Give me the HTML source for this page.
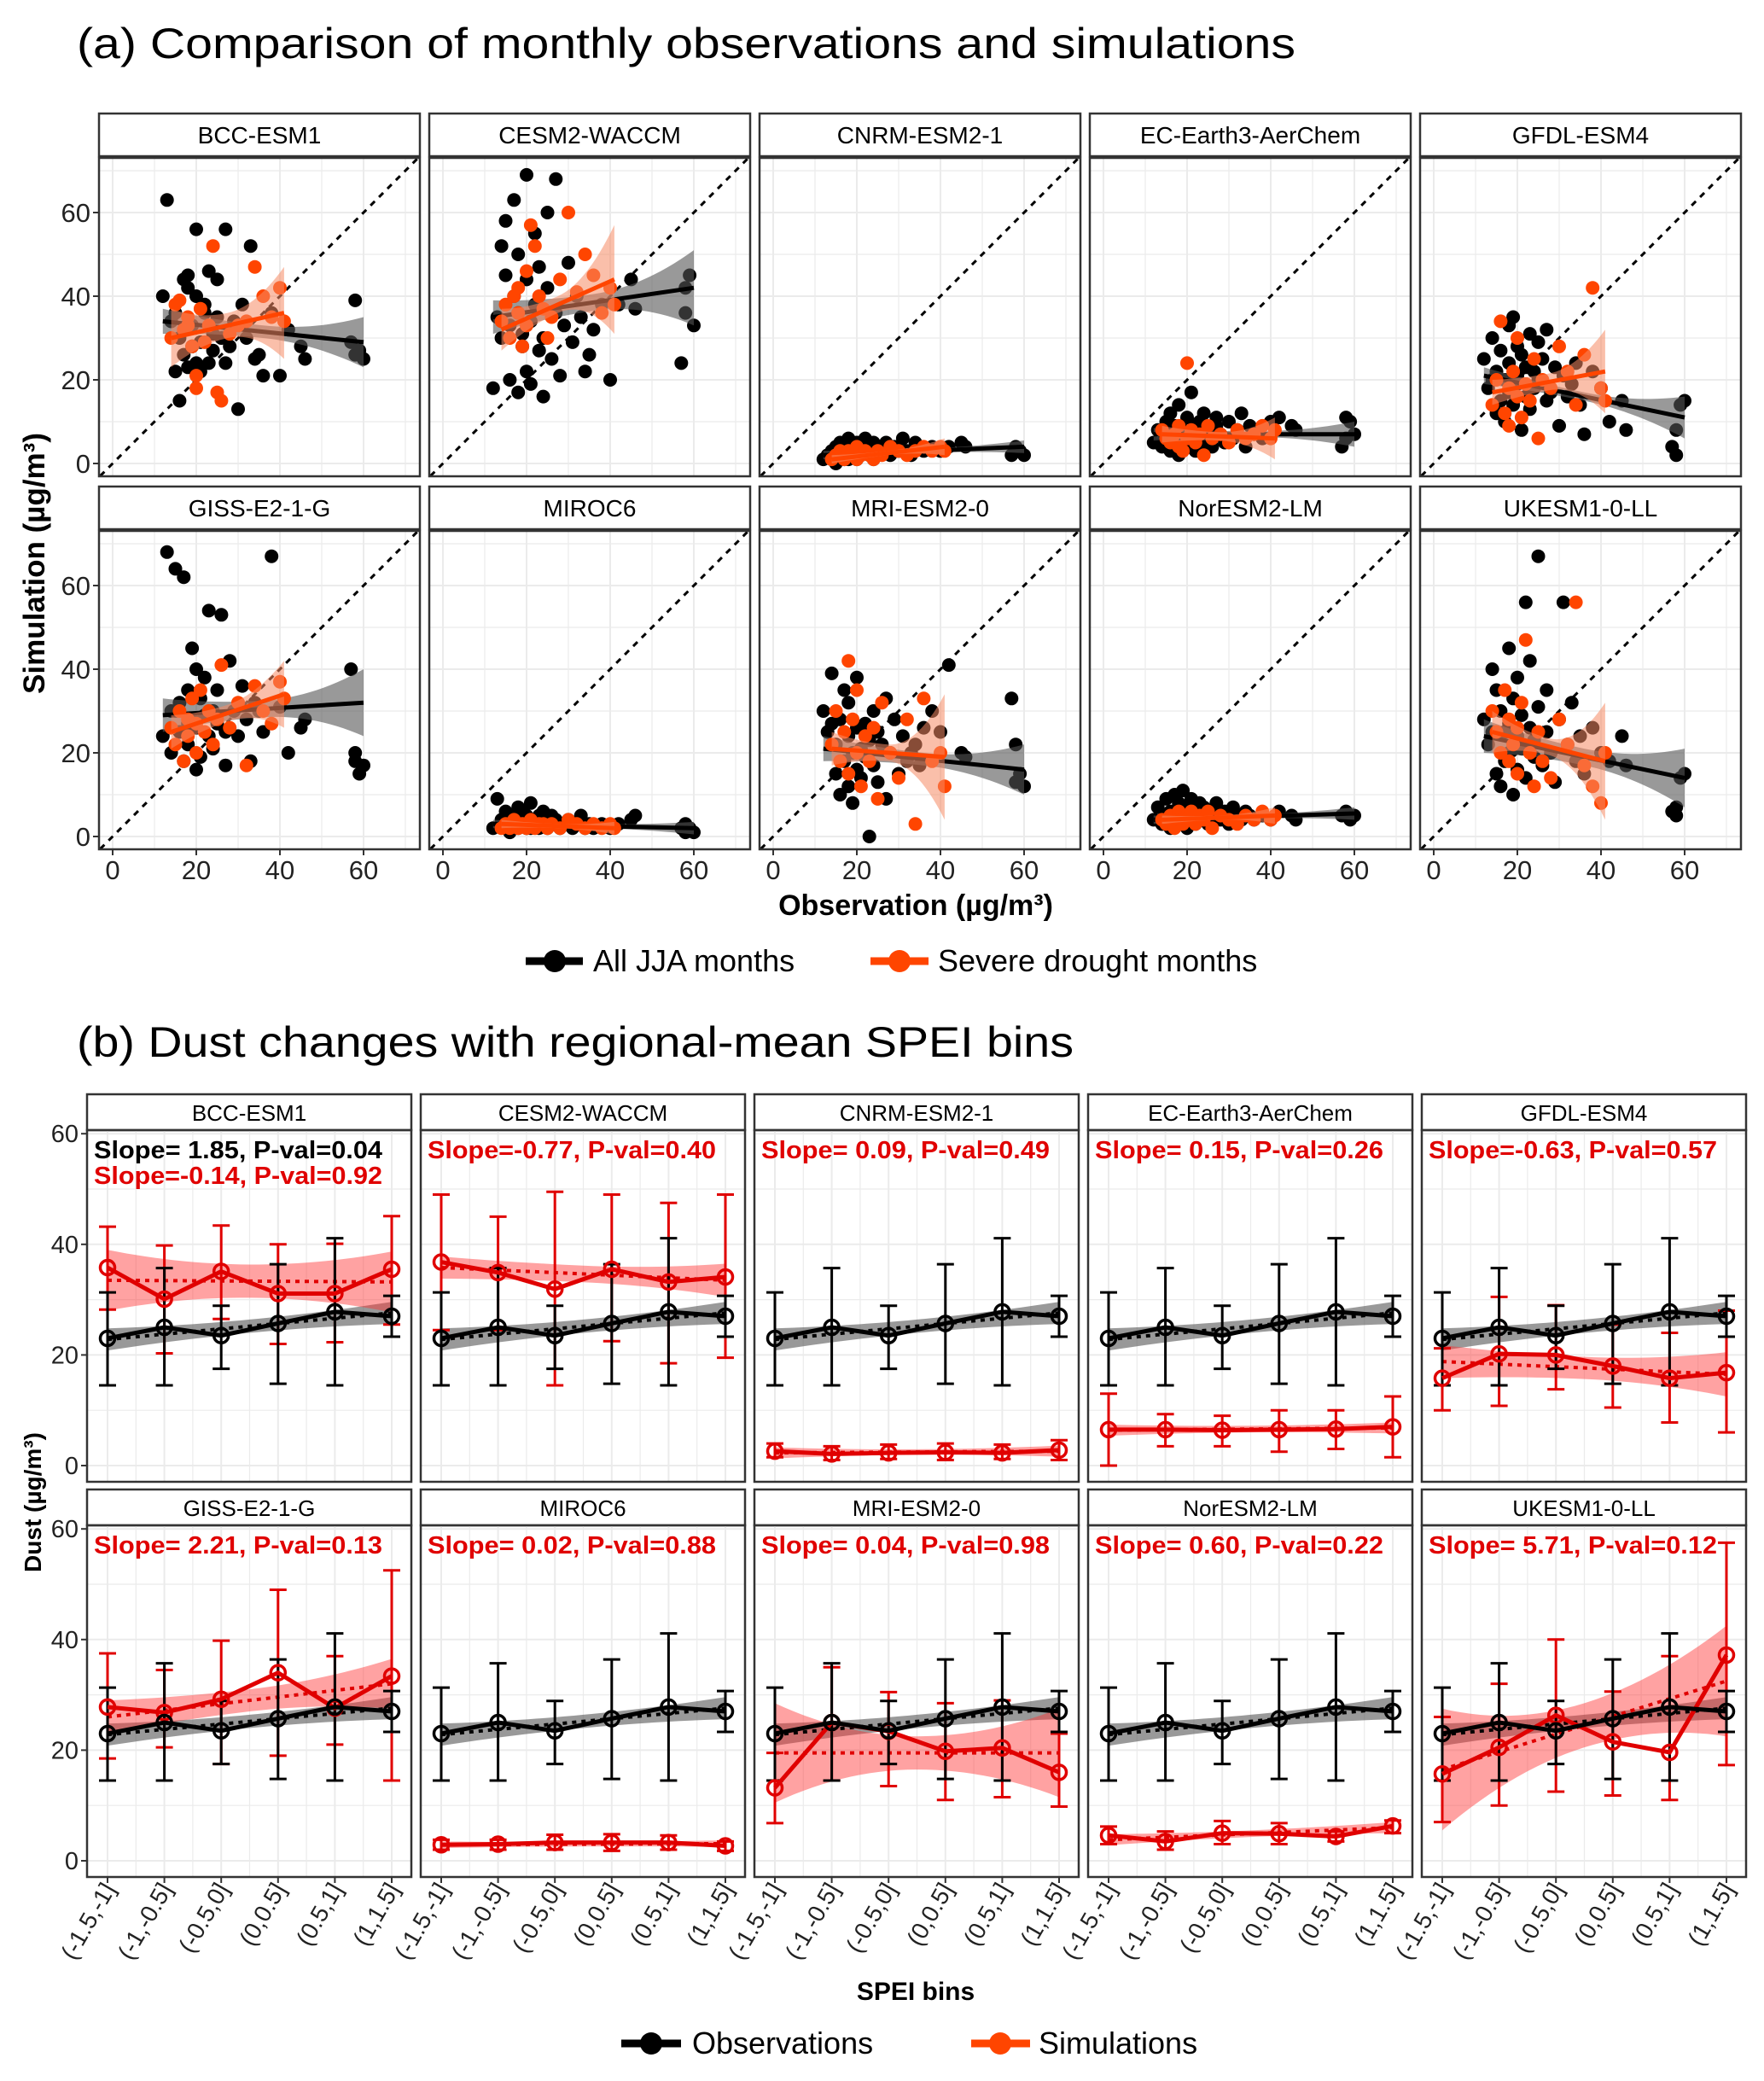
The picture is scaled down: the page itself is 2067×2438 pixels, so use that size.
<!DOCTYPE html>
<html><head><meta charset="utf-8">
<style>
html,body{margin:0;padding:0;background:#fff;}
svg{display:block;font-family:"Liberation Sans",Arial,sans-serif;}
</style></head>
<body>
<svg id="fig" width="2067" height="2438" viewBox="0 0 2067 2438" xmlns="http://www.w3.org/2000/svg">
<rect x="0" y="0" width="2067" height="2438" fill="#fff"/>
<text x="90" y="68" font-size="50" textLength="1428" lengthAdjust="spacingAndGlyphs">(a) Comparison of monthly observations and simulations</text>
<text x="90" y="1238" font-size="50" textLength="1168" lengthAdjust="spacingAndGlyphs">(b) Dust changes with regional-mean SPEI bins</text>
<text transform="translate(52,660) rotate(-90)" text-anchor="middle" font-size="35" font-weight="bold">Simulation (µg/m³)</text>
<text x="1073" y="1072" text-anchor="middle" font-size="34" font-weight="bold">Observation (µg/m³)</text>
<text transform="translate(48,1760) rotate(-90)" text-anchor="middle" font-size="28" font-weight="bold">Dust (µg/m³)</text>
<text x="1073" y="2343" text-anchor="middle" font-size="30" font-weight="bold">SPEI bins</text>
<g id="gA"></g>
<g id="gB"></g>
<g>
  <line x1="616" y1="1126" x2="683" y2="1126" stroke="#000" stroke-width="9"/>
  <circle cx="650" cy="1126" r="13" fill="#000"/>
  <text x="695" y="1138" font-size="36">All JJA months</text>
  <line x1="1020" y1="1126" x2="1088" y2="1126" stroke="#ff4500" stroke-width="9"/>
  <circle cx="1054" cy="1126" r="13" fill="#ff4500"/>
  <text x="1099" y="1138" font-size="36">Severe drought months</text>
</g>
<g>
  <line x1="728" y1="2394" x2="798" y2="2394" stroke="#000" stroke-width="9"/>
  <circle cx="763" cy="2394" r="13" fill="#000"/>
  <text x="811" y="2406" font-size="36">Observations</text>
  <line x1="1138" y1="2394" x2="1207" y2="2394" stroke="#ff4500" stroke-width="9"/>
  <circle cx="1172" cy="2394" r="13" fill="#ff4500"/>
  <text x="1217" y="2406" font-size="36">Simulations</text>
</g>
</svg>
<script>
const NS="http://www.w3.org/2000/svg";
const models=["BCC-ESM1","CESM2-WACCM","CNRM-ESM2-1","EC-Earth3-AerChem","GFDL-ESM4","GISS-E2-1-G","MIROC6","MRI-ESM2-0","NorESM2-LM","UKESM1-0-LL"];
// ---- Panel (a) data ----
const obsAll=[12,13,14,15,15,16,16,17,17,18,18,18,19,19,20,20,20,21,21,22,22,23,23,24,24,25,25,26,27,27,28,29,30,31,32,33,34,35,36,38,40,42,45,46,57,58,58,59,60,14];
const simBCC=[40,63,34,22,36,15,30,44,26,23,45,42,33,28,24,56,40,29,22,38,36,46,24,27,31,35,44,30,24,56,28,34,13,38,30,52,25,26,21,36,21,32,28,25,29,26,39,27,25,34];
const simCESM=[18,35,30,45,58,20,33,40,63,17,36,50,28,31,44,22,69,34,19,55,38,27,47,16,30,42,60,25,36,68,21,33,48,29,40,35,22,26,32,38,20,38,44,37,24,36,42,45,33,52];
const simCNRM=[1,2,3,0,4,2,5,1,3,2,6,1,3,4,2,1,5,3,2,4,6,2,3,1,5,3,2,4,3,5,2,4,3,6,3,2,5,4,3,4,3,4,5,4,2,3,4,3,2,1];
const simEC=[5,8,4,10,6,3,12,7,9,2,6,14,5,8,11,7,4,17,6,9,3,10,7,5,12,8,6,4,9,11,7,5,10,6,8,12,4,9,7,6,10,11,9,8,4,6,11,10,7,5];
const simGFDL=[25,18,30,12,22,15,27,20,10,33,24,17,35,14,21,28,19,8,26,16,23,31,13,22,18,29,20,25,15,32,17,23,9,21,16,19,24,14,7,22,18,10,15,8,4,8,2,14,15,20];
const simGISS=[24,68,20,30,64,25,32,18,62,27,35,22,45,28,16,40,26,33,19,38,29,54,24,30,21,35,27,53,25,17,42,30,24,36,28,18,32,30,25,67,31,20,26,28,40,20,18,15,17,30];
const simMIROC=[2,9,3,6,2,4,1,5,3,7,2,4,3,6,2,5,3,8,2,4,3,5,2,6,3,4,2,5,3,4,2,3,4,2,3,5,2,3,2,3,2,3,4,5,2,1,3,2,1,4];
const simMRI=[30,25,39,15,22,10,28,18,35,12,24,32,20,8,26,16,38,21,14,27,19,0,23,30,17,25,13,22,33,9,20,28,15,24,18,20,22,17,26,30,25,41,20,19,33,22,13,15,12,27];
const simNor=[4,7,3,9,5,2,6,10,4,8,3,5,11,6,2,7,4,9,5,3,6,8,4,7,5,3,6,4,8,5,4,6,3,7,5,4,6,5,4,5,4,6,5,4,5,6,5,4,5,3];
const simUK=[28,22,40,15,35,12,30,25,18,45,20,27,10,33,24,38,16,29,21,56,14,26,42,19,23,31,67,17,25,35,20,13,28,56,22,32,18,24,15,26,20,18,24,17,6,7,5,14,15,25];
const simAll=[simBCC,simCESM,simCNRM,simEC,simGFDL,simGISS,simMIROC,simMRI,simNor,simUK];
const obsDrought=[14,15,16,17,18,18,19,20,20,21,22,23,24,25,26,28,30,32,34,36,38,40,41];
const drBCC=[30,38,39,32,33,35,28,21,18,37,29,33,52,17,15,31,33,34,47,40,35,42,34];
const drCESM=[34,38,30,40,42,36,28,46,33,57,52,40,37,30,35,44,60,41,50,45,36,42,38];
const drCNRM=[1,2,3,1,2,3,2,1,4,2,3,2,1,3,2,4,3,2,3,4,3,4,3];
const drEC=[8,6,5,7,4,9,3,24,6,8,5,7,2,9,6,7,5,8,6,7,9,6,8];
const drGFDL=[14,20,34,12,18,9,22,16,30,11,19,15,25,6,20,18,28,22,14,26,42,18,15];
const drGISS=[26,22,30,18,28,24,33,20,27,35,25,30,22,28,41,26,32,17,36,30,27,37,33];
const drMIROC=[2,3,2,4,3,2,3,2,3,4,2,3,3,2,3,2,4,3,2,3,2,3,2];
const drMRI=[22,30,18,25,42,15,28,20,35,12,24,18,26,9,32,20,14,28,3,33,18,20,12];
const drNor=[4,3,5,2,6,4,3,5,4,6,3,5,4,6,2,5,4,3,5,4,6,4,5];
const drUK=[30,25,20,35,18,28,22,15,26,32,47,20,12,25,18,14,28,22,56,17,12,8,20];
const simDrought=[drBCC,drCESM,drCNRM,drEC,drGFDL,drGISS,drMIROC,drMRI,drNor,drUK];
const fitAll=[[34,29],[35,42],[2,4],[7,7],[21,11],[29,32],[3,2],[21,16],[4,5.5],[24,14]];
const bandAll=[[3,1.5,6],[4,2,9],[1,0.5,1.5],[1.5,0.7,3],[2,1,5],[4,2,8],[1,0.5,1.5],[3,1.5,6],[1,0.5,1.5],[4,2,7]];
const fitDr=[[30,36],[32,44],[1,4],[7,6],[17,22],[25,34],[3,2],[21,19],[4,5],[25,18]];
const bandDr=[[7,3,11],[5,2,13],[1,0.5,2],[2,1,5],[3,2,10],[4,2,8],[1,0.5,1.5],[4,2,15],[1,0.5,2],[5,2,14]];
const fitRangeAll=[12,60], fitRangeDr=[14,41];
const ticksA=[0,20,40,60];
// ---- Panel (b) data ----
const bins=["(-1.5,-1]","(-1,-0.5]","(-0.5,0]","(0,0.5]","(0.5,1]","(1,1.5]"];
const obsMean=[23,25,23.5,25.7,27.8,27];
const obsLo=[14.5,14.5,17.5,14.8,14.5,23.3];
const obsHi=[31.3,35.7,28.9,36.4,41.1,30.7];
const obsFit=[22.8,27.6];
const obsBand=[2,1.2,2];
const simMean=[[35.8,30.1,35.1,31.1,31.1,35.5],[36.8,34.9,31.9,35.5,33.2,34.1],[2.6,2.1,2.3,2.4,2.3,2.8],[6.5,6.5,6.4,6.5,6.6,7],[15.8,20.2,20,18,15.8,16.8],[27.8,26.8,29.2,34,27.6,33.4],[2.9,3,3.3,3.3,3.3,2.7],[13.2,25,23.4,19.8,20.4,16],[4.6,3.5,5,4.9,4.4,6.3],[15.7,20.5,26.3,21.5,19.6,37.2]];
const simLo=[[28.2,20.3,26.5,22,22.3,25.5],[24.5,24.5,14.5,22.5,18.5,19.5],[1.5,1,1.2,1,1.2,1],[0,3.5,3.5,2.5,3,1.5],[10,10.8,13.8,10.5,7.8,6],[18.5,20.5,17.5,19,21,14.5],[2,2,2,1.8,2,1.8],[6.8,14.5,13.5,11,11.5,9.8],[3,2,3,3,3.5,5],[7,10,12.5,11.8,11,17.3]];
const simHi=[[43.2,39.8,43.4,40,40.1,45.1],[49,45,49.5,49,47.5,49],[4,3.5,3.8,4,3.8,4.6],[13,9.3,9,10,10,12.5],[21.2,30.5,29,25.5,24,28],[37.5,34.5,39.8,49,37,52.5],[3.8,3.8,4.7,4.8,4.6,3.5],[19.5,35,30.5,28.5,29,23],[6.2,5.3,7.2,6.8,5.3,7.3],[26,32,40,30.6,37,57.5]];
const simFit=[[33.5,33.2],[35.8,33.5],[2.3,2.6],[6.4,6.8],[18.8,16.5],[26,32],[2.9,3.1],[19.5,19.5],[3.8,6],[16.5,32.5]];
const simBand=[[5.5,3,5.5],[2,1.5,3],[1,0.5,1],[1,0.6,1],[3,2,4],[3,2,4.5],[0.6,0.4,0.6],[9,3,8],[1,0.6,1],[11,4,10]];
const slopeObsText="Slope= 1.85, P-val=0.04";
const slopeSimText=["Slope=-0.14, P-val=0.92","Slope=-0.77, P-val=0.40","Slope= 0.09, P-val=0.49","Slope= 0.15, P-val=0.26","Slope=-0.63, P-val=0.57","Slope= 2.21, P-val=0.13","Slope= 0.02, P-val=0.88","Slope= 0.04, P-val=0.98","Slope= 0.60, P-val=0.22","Slope= 5.71, P-val=0.12"];
const ticksB=[0,20,40,60];

function mk(tag,attrs,parent){const e=document.createElementNS(NS,tag);for(const k in attrs)e.setAttribute(k,attrs[k]);parent.appendChild(e);return e;}

function bandPath(xs,ys,x0,x1,fit,bw,sx,sy,n){
  let up=[],dn=[];
  for(let i=0;i<=n;i++){const t=i/n;const x=x0+(x1-x0)*t;const y=fit[0]+(fit[1]-fit[0])*t;
    const c=(x0+x1)/2;const tt=(x-c)/((x1-x0)/2);
    const w=bw[1]+(tt<0?(bw[0]-bw[1]):(bw[2]-bw[1]))*tt*tt;
    up.push(sx(x)+","+sy(y+w));dn.push(sx(x)+","+sy(y-w));}
  return "M"+up.join("L")+"L"+dn.reverse().join("L")+"Z";
}

// ===== Panel (a) =====
const gA=document.getElementById("gA");
for(let m=0;m<10;m++){
  const col=m%5,row=Math.floor(m/5);
  const L=116+col*387,W=376,st=133+row*437,pt=st+52,pb=pt+373;
  const sx=v=>L+16+v*4.9, sy=v=>pt+358-v*4.9;
  const g=mk("g",{},gA);
  
  
  mk("rect",{x:L,y:st,width:W,height:50,fill:"#fff",stroke:"#333","stroke-width":2.5},g);
  const t=mk("text",{x:L+W/2,y:st+35,"text-anchor":"middle","font-size":28},g);t.textContent=models[m];
  
  
  const cp=mk("clipPath",{id:"ca"+m},g);mk("rect",{x:L,y:pt,width:W,height:pb-pt},cp);
  const pg=mk("g",{"clip-path":"url(#ca"+m+")"},g);
  for(let v=-10;v<=80;v+=10){
    mk("line",{x1:sx(v),x2:sx(v),y1:pt,y2:pb,stroke:"#ebebeb","stroke-width":v%20==0?2:1.2},pg);
    mk("line",{y1:sy(v),y2:sy(v),x1:L,x2:L+W,stroke:"#ebebeb","stroke-width":v%20==0?2:1.2},pg);
  }
  mk("line",{x1:sx(-5),y1:sy(-5),x2:sx(80),y2:sy(80),stroke:"#000","stroke-width":3,"stroke-dasharray":"7,7"},pg);
  obsAll.forEach((x,i)=>{const c=mk("circle",{cx:sx(x),cy:sy(simAll[m][i]),r:8,fill:"#000"},pg);
    
    });
  const ba=mk("path",{d:bandPath(0,0,fitRangeAll[0],fitRangeAll[1],fitAll[m],bandAll[m],sx,sy,30),fill:"#555","fill-opacity":0.6},pg);
  
  
  mk("line",{x1:sx(fitRangeAll[0]),y1:sy(fitAll[m][0]),x2:sx(fitRangeAll[1]),y2:sy(fitAll[m][1]),stroke:"#000","stroke-width":5},pg);
  obsDrought.forEach((x,i)=>{const c=mk("circle",{cx:sx(x),cy:sy(simDrought[m][i]),r:8,fill:"#ff4500"},pg);
    
    });
  const bd=mk("path",{d:bandPath(0,0,fitRangeDr[0],fitRangeDr[1],fitDr[m],bandDr[m],sx,sy,30),fill:"#f58a64","fill-opacity":0.55},pg);
  
  
  mk("line",{x1:sx(fitRangeDr[0]),y1:sy(fitDr[m][0]),x2:sx(fitRangeDr[1]),y2:sy(fitDr[m][1]),stroke:"#ff4500","stroke-width":5},pg);
  mk("rect",{x:L,y:pt,width:W,height:pb-pt,fill:"none",stroke:"#333","stroke-width":2.5},g);
  if(col==0){ticksA.forEach(v=>{mk("line",{x1:L-7,x2:L,y1:sy(v),y2:sy(v),stroke:"#333","stroke-width":2},g);
    const tl=mk("text",{x:L-10,y:sy(v)+11,"text-anchor":"end","font-size":31,fill:"#222"},g);tl.textContent=v;
    
    });}
  if(row==1){ticksA.forEach(v=>{mk("line",{x1:sx(v),x2:sx(v),y1:pb,y2:pb+7,stroke:"#333","stroke-width":2},g);
    const tl=mk("text",{x:sx(v),y:pb+35,"text-anchor":"middle","font-size":31,fill:"#222"},g);tl.textContent=v;
    
    });}
}

// ===== Panel (b) =====
const gB=document.getElementById("gB");
for(let m=0;m<10;m++){
  const col=m%5,row=Math.floor(m/5);
  const L=102+col*391,W=380,st=1282+row*463,pt=st+42,pb=pt+412;
  const sx=k=>L+24+k*66.6, sy=v=>pt+393-v*6.48;
  const g=mk("g",{},gB);
  
  
  mk("rect",{x:L,y:st,width:W,height:42,fill:"#fff",stroke:"#333","stroke-width":2.5},g);
  const t=mk("text",{x:L+W/2,y:st+31,"text-anchor":"middle","font-size":26},g);t.textContent=models[m];
  
  
  const cp=mk("clipPath",{id:"cb"+m},g);mk("rect",{x:L,y:pt,width:W,height:pb-pt},cp);
  const pg=mk("g",{"clip-path":"url(#cb"+m+")"},g);
  for(let k=-0.5;k<=5.5;k+=0.5){mk("line",{x1:sx(k),x2:sx(k),y1:pt,y2:pb,stroke:"#ebebeb","stroke-width":k%1==0?2:1.2},pg);}
  for(let v=0;v<=60;v+=10){mk("line",{y1:sy(v),y2:sy(v),x1:L,x2:L+W,stroke:"#ebebeb","stroke-width":v%20==0?2:1.2},pg);}
  const ob=mk("path",{d:bandPath(0,0,0,5,obsFit,obsBand,sx,sy,30),fill:"#555","fill-opacity":0.6},pg);
  
  
  const sb=mk("path",{d:bandPath(0,0,0,5,simFit[m],simBand[m],sx,sy,30),fill:"#ff3030","fill-opacity":0.45},pg);
  
  
  mk("line",{x1:sx(0),y1:sy(obsFit[0]),x2:sx(5),y2:sy(obsFit[1]),stroke:"#000","stroke-width":4,"stroke-dasharray":"5,6"},pg);
  mk("line",{x1:sx(0),y1:sy(simFit[m][0]),x2:sx(5),y2:sy(simFit[m][1]),stroke:"#e00000","stroke-width":4,"stroke-dasharray":"5,6"},pg);
  function errs(lo,hi,color,nm){lo.forEach((l,k)=>{const h=hi[k];
    const e=mk("g",{stroke:color,"stroke-width":3},pg);
    
    
    mk("line",{x1:sx(k),x2:sx(k),y1:sy(l),y2:sy(h)},e);
    mk("line",{x1:sx(k)-10,x2:sx(k)+10,y1:sy(l),y2:sy(l)},e);
    mk("line",{x1:sx(k)-10,x2:sx(k)+10,y1:sy(h),y2:sy(h)},e);});}
  errs(simLo[m],simHi[m],"#e00000","sim-errorbar");
  errs(obsLo,obsHi,"#000","obs-errorbar");
  function series(vals,color,nm){
    const pl=mk("polyline",{points:vals.map((v,k)=>sx(k)+","+sy(v)).join(" "),fill:"none",stroke:color,"stroke-width":5},pg);
    
    
    vals.forEach((v,k)=>{const c=mk("circle",{cx:sx(k),cy:sy(v),r:8.5,fill:"none",stroke:color,"stroke-width":3.5},pg);
      
      });}
  series(simMean[m],"#e00000","sim");
  series(obsMean,"#000","obs");
  mk("rect",{x:L,y:pt,width:W,height:pb-pt,fill:"none",stroke:"#333","stroke-width":2.5},g);
  let ty=pt+33;
  if(m==0){const to=mk("text",{x:L+8,y:ty,"font-size":29,"font-weight":"bold",fill:"#000",textLength:338,lengthAdjust:"spacingAndGlyphs"},g);to.textContent=slopeObsText;
    
    ty+=30;}
  const ts=mk("text",{x:L+8,y:ty,"font-size":29,"font-weight":"bold",fill:"#e00000",textLength:338,lengthAdjust:"spacingAndGlyphs"},g);ts.textContent=slopeSimText[m];
  
  
  if(col==0){ticksB.forEach(v=>{mk("line",{x1:L-7,x2:L,y1:sy(v),y2:sy(v),stroke:"#333","stroke-width":2},g);
    const tl=mk("text",{x:L-10,y:sy(v)+10,"text-anchor":"end","font-size":29,fill:"#222"},g);tl.textContent=v;
    
    });}
  if(row==1){bins.forEach((b,k)=>{mk("line",{x1:sx(k),x2:sx(k),y1:pb,y2:pb+7,stroke:"#333","stroke-width":2},g);
    const tl=mk("text",{x:sx(k)+10,y:pb+14,"text-anchor":"end","font-size":28,fill:"#222",transform:"rotate(-60 "+(sx(k)+10)+" "+(pb+14)+")"},g);tl.textContent=b;
    
    });}
}
</script>
</body></html>
